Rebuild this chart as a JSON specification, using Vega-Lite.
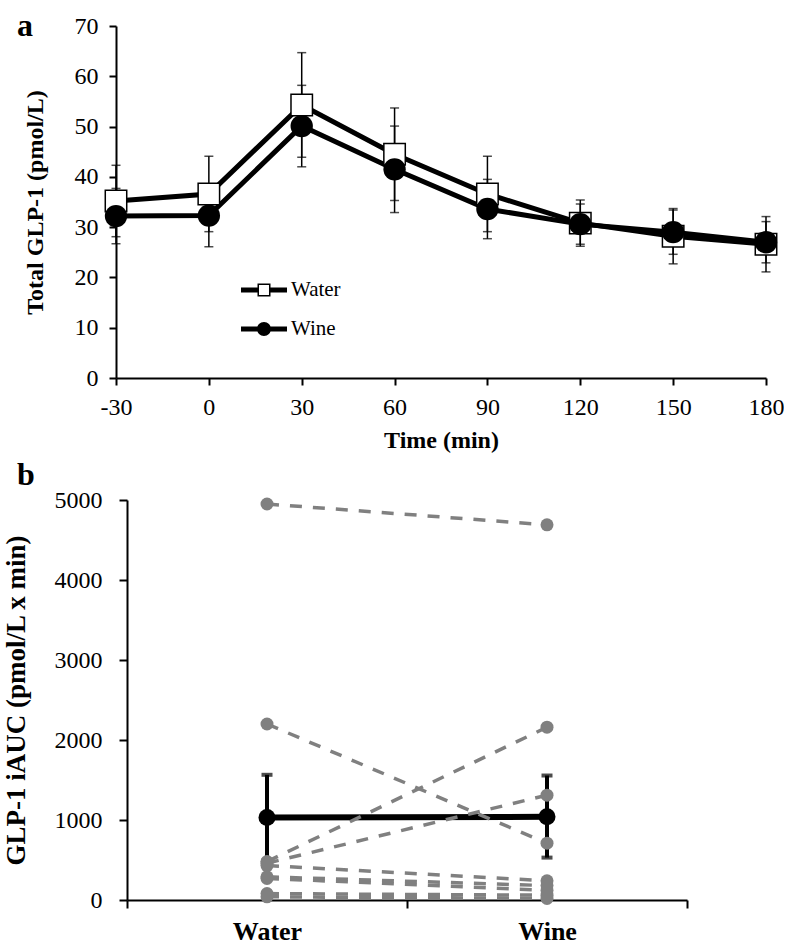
{
  "$schema": "https://vega.github.io/schema/vega-lite/v6.json",
  "background": "white",
  "padding": {"left": 2, "top": 10, "right": 0, "bottom": 0},
  "spacing": 7,
  "config": {
    "font": "Liberation Serif",
    "view": {"stroke": null},
    "axis": {"grid": false, "domainColor": "black", "domainWidth": 2, "tickColor": "black", "tickWidth": 2, "tickSize": 7, "labelColor": "black", "titleColor": "black", "labelFont": "Liberation Serif", "titleFont": "Liberation Serif", "labelFlush": false, "labelOverlap": false, "titleFontWeight": "bold"},
    "title": {"font": "Liberation Serif", "fontWeight": "bold", "color": "black"}
  },
  "datasets": {
    "glp": [
      {"series": "Water", "time": -30, "mean": 35.2, "lo": 28.1, "hi": 42.3},
      {"series": "Water", "time": 0, "mean": 36.6, "lo": 29.1, "hi": 44.1},
      {"series": "Water", "time": 30, "mean": 54.3, "lo": 43.9, "hi": 64.7},
      {"series": "Water", "time": 60, "mean": 44.5, "lo": 35.3, "hi": 53.7},
      {"series": "Water", "time": 90, "mean": 36.6, "lo": 29.1, "hi": 44.1},
      {"series": "Water", "time": 120, "mean": 30.8, "lo": 26.2, "hi": 35.4},
      {"series": "Water", "time": 150, "mean": 28.2, "lo": 22.7, "hi": 33.7},
      {"series": "Water", "time": 180, "mean": 26.6, "lo": 21.1, "hi": 32.1},
      {"series": "Wine", "time": -30, "mean": 32.2, "lo": 26.7, "hi": 37.7},
      {"series": "Wine", "time": 0, "mean": 32.3, "lo": 26.1, "hi": 38.5},
      {"series": "Wine", "time": 30, "mean": 50.1, "lo": 42.0, "hi": 58.2},
      {"series": "Wine", "time": 60, "mean": 41.5, "lo": 32.9, "hi": 50.1},
      {"series": "Wine", "time": 90, "mean": 33.6, "lo": 27.7, "hi": 39.5},
      {"series": "Wine", "time": 120, "mean": 30.6, "lo": 26.6, "hi": 34.6},
      {"series": "Wine", "time": 150, "mean": 29.0, "lo": 24.6, "hi": 33.4},
      {"series": "Wine", "time": 180, "mean": 27.0, "lo": 22.9, "hi": 31.1}
    ],
    "auc": [
      {"subject": "S1", "drink": "Water", "value": 4950},
      {"subject": "S1", "drink": "Wine", "value": 4690},
      {"subject": "S2", "drink": "Water", "value": 2200},
      {"subject": "S2", "drink": "Wine", "value": 710},
      {"subject": "S3", "drink": "Water", "value": 480},
      {"subject": "S3", "drink": "Wine", "value": 2160},
      {"subject": "S4", "drink": "Water", "value": 460},
      {"subject": "S4", "drink": "Wine", "value": 1310},
      {"subject": "S5", "drink": "Water", "value": 430},
      {"subject": "S5", "drink": "Wine", "value": 240},
      {"subject": "S6", "drink": "Water", "value": 290},
      {"subject": "S6", "drink": "Wine", "value": 180},
      {"subject": "S7", "drink": "Water", "value": 270},
      {"subject": "S7", "drink": "Wine", "value": 120},
      {"subject": "S8", "drink": "Water", "value": 80},
      {"subject": "S8", "drink": "Wine", "value": 60},
      {"subject": "S9", "drink": "Water", "value": 40},
      {"subject": "S9", "drink": "Wine", "value": 20}
    ],
    "aucMean": [
      {"drink": "Water", "mean": 1030, "lo": 495, "hi": 1565},
      {"drink": "Wine", "mean": 1040, "lo": 530, "hi": 1556}
    ]
  },
  "vconcat": [
    {
      "width": 639,
      "height": 352,
      "title": {"text": "a", "anchor": "start", "frame": "group", "orient": "top", "fontSize": 32, "baseline": "alphabetic", "offset": -54, "dx": -110},
      "data": {"name": "glp"},
      "encoding": {
        "x": {"field": "time", "type": "quantitative", "scale": {"domain": [-30, 180], "nice": false, "range": [-11, 639]},
              "axis": {"title": "Time (min)", "values": [-30, 0, 30, 60, 90, 120, 150, 180], "labelExpr": "datum.value + ''", "labelFontSize": 24, "labelPadding": 10, "titleFontSize": 24, "titlePadding": 9}}
      },
      "layer": [
        {"mark": {"type": "rule", "color": "black", "strokeWidth": 1.5},
         "encoding": {"y": {"field": "lo", "type": "quantitative", "title": "Total GLP-1 (pmol/L)", "scale": {"domain": [0, 70], "nice": false},
                            "axis": {"values": [0, 10, 20, 30, 40, 50, 60, 70], "offset": 11, "labelFontSize": 24, "labelPadding": 11, "titleFontSize": 24, "titlePadding": 27}},
                      "y2": {"field": "hi"}}},
        {"mark": {"type": "tick", "orient": "horizontal", "color": "black", "size": 9, "thickness": 1.5},
         "encoding": {"y": {"field": "lo", "type": "quantitative", "title": "Total GLP-1 (pmol/L)"}}},
        {"mark": {"type": "tick", "orient": "horizontal", "color": "black", "size": 9, "thickness": 1.5},
         "encoding": {"y": {"field": "hi", "type": "quantitative", "title": "Total GLP-1 (pmol/L)"}}},
        {"mark": {"type": "line", "color": "black", "strokeWidth": 5},
         "encoding": {"y": {"field": "mean", "type": "quantitative", "title": "Total GLP-1 (pmol/L)"}, "detail": {"field": "series"}}},
        {"transform": [{"filter": "datum.series === 'Water'"}],
         "mark": {"type": "point", "shape": "square", "filled": true, "fill": "white", "stroke": "black", "strokeWidth": 1.5, "size": 460, "opacity": 1},
         "encoding": {"y": {"field": "mean", "type": "quantitative", "title": "Total GLP-1 (pmol/L)"}}},
        {"transform": [{"filter": "datum.series === 'Wine'"}],
         "mark": {"type": "point", "shape": "circle", "filled": true, "color": "black", "size": 500, "opacity": 1},
         "encoding": {"y": {"field": "mean", "type": "quantitative", "title": "Total GLP-1 (pmol/L)"}}},
        {"mark": {"type": "point", "filled": true, "color": "black", "opacity": 0},
         "encoding": {
           "y": {"field": "mean", "type": "quantitative", "title": "Total GLP-1 (pmol/L)"},
           "shape": {"field": "series", "type": "nominal",
                     "scale": {"domain": ["Water", "Wine"], "range": [
                       "M-1,-0.109H-0.283V0.109H-1Z M0.283,-0.109H1V0.109H0.283Z M-0.283,-0.283H0.283V0.283H-0.283Z M-0.217,-0.217V0.217H0.217V-0.217Z",
                       "M-1,-0.109H-0.2V0.109H-1Z M0.2,-0.109H1V0.109H0.2Z M0.304,0A0.304,0.304 0 1,1 -0.304,0A0.304,0.304 0 1,1 0.304,0Z"]},
                     "legend": {"title": null, "orient": "none", "legendX": 114, "legendY": 241, "symbolSize": 2116, "symbolOpacity": 1, "symbolFillColor": "black", "symbolStrokeWidth": 0, "labelFontSize": 21, "labelFont": "Liberation Serif", "labelColor": "black", "labelOffset": 4, "rowPadding": 6, "padding": 0}}
         }}
      ]
    },
    {
      "width": 560,
      "height": 400,
      "title": {"text": "b", "anchor": "start", "frame": "group", "orient": "top", "fontSize": 32, "baseline": "alphabetic", "offset": -29, "dx": -110},
      "encoding": {
        "x": {"field": "drink", "type": "nominal", "scale": {"type": "band", "paddingInner": 0, "paddingOuter": 0, "domain": ["Water", "Wine"]},
              "axis": {"title": null, "labelAngle": 0, "labelFontSize": 26, "labelFontWeight": "bold", "labelPadding": 10, "tickSize": 8, "tickBand": "extent"}}
      },
      "layer": [
        {"data": {"name": "aucMean"},
         "mark": {"type": "rule", "color": "black", "strokeWidth": 4},
         "encoding": {"y": {"field": "lo", "type": "quantitative", "title": "GLP-1 iAUC (pmol/L x min)", "scale": {"domain": [0, 5000], "nice": false},
                            "axis": {"values": [0, 1000, 2000, 3000, 4000, 5000], "format": "d", "labelFontSize": 24, "labelPadding": 17, "tickSize": 8, "titleFontSize": 27, "titlePadding": 24}},
                      "y2": {"field": "hi"}}},
        {"data": {"name": "aucMean"},
         "mark": {"type": "tick", "color": "black", "size": 11, "thickness": 4},
         "encoding": {"y": {"field": "hi", "type": "quantitative", "title": "GLP-1 iAUC (pmol/L x min)"}}},
        {"data": {"name": "aucMean"},
         "mark": {"type": "tick", "color": "black", "size": 11, "thickness": 4},
         "encoding": {"y": {"field": "lo", "type": "quantitative", "title": "GLP-1 iAUC (pmol/L x min)"}}},
        {"data": {"name": "aucMean"},
         "mark": {"type": "line", "color": "black", "strokeWidth": 6},
         "encoding": {"y": {"field": "mean", "type": "quantitative", "title": "GLP-1 iAUC (pmol/L x min)"}}},
        {"data": {"name": "aucMean"},
         "mark": {"type": "point", "filled": true, "color": "black", "size": 289, "opacity": 1},
         "encoding": {"y": {"field": "mean", "type": "quantitative", "title": "GLP-1 iAUC (pmol/L x min)"}}},
        {"data": {"name": "auc"},
         "mark": {"type": "line", "color": "#808080", "strokeWidth": 3.5, "strokeDash": [12, 11]},
         "encoding": {"y": {"field": "value", "type": "quantitative", "title": "GLP-1 iAUC (pmol/L x min)"}, "detail": {"field": "subject"}}},
        {"data": {"name": "auc"},
         "mark": {"type": "point", "filled": true, "color": "#808080", "size": 169, "opacity": 1},
         "encoding": {"y": {"field": "value", "type": "quantitative", "title": "GLP-1 iAUC (pmol/L x min)"}}}
      ]
    }
  ]
}
